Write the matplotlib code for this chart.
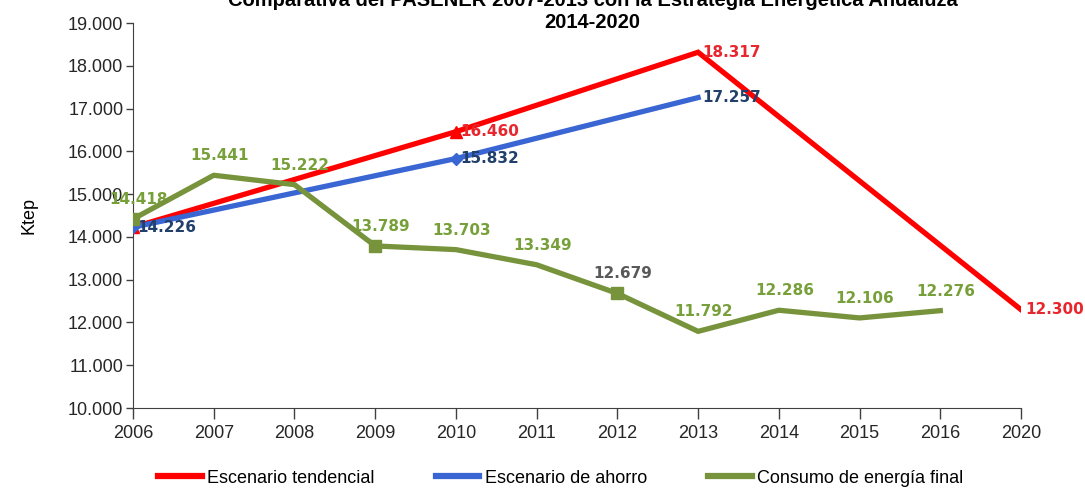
import numpy as np
import matplotlib.pyplot as plt
from matplotlib.ticker import FuncFormatter
from matplotlib.lines import Line2D

plt.rcParams['font.family'] = ['Liberation Sans', 'DejaVu Sans']

# datos
anios = ['2006', '2007', '2008', '2009', '2010', '2011', '2012', '2013', '2014', '2015', '2016', '2020']
tend_idx = [0, 4, 7, 11]
tend_val = [14226, 16460, 18317, 12300]
ahorro_idx = [0, 4, 7]
ahorro_val = [14226, 15832, 17257]
consumo_val = [14418, 15441, 15222, 13789, 13703, 13349, 12679, 11792, 12286, 12106, 12276]

c_rojo = '#FF0000'
c_azul = '#3A66D4'
c_verde = '#77933C'

fig = plt.figure(figsize=(10.85, 4.9), dpi=100)
ax = fig.add_axes([0.1226, 0.1673, 1021 / 1085 - 0.1226, 0.7857])

x_cons = np.arange(len(consumo_val))
ax.plot(tend_idx, tend_val, color=c_rojo, lw=3.8, marker='^', markersize=8,
        markevery=[0, 1], solid_joinstyle='miter', zorder=3)
ax.plot(ahorro_idx, ahorro_val, color=c_azul, lw=3.8, marker='D', markersize=6,
        markevery=[0, 1], zorder=3)
ax.plot(x_cons, consumo_val, color=c_verde, lw=3.8, marker='s', markersize=8,
        markevery=[0, 3, 6], zorder=4)

# etiquetas de datos
def fmt(v):
    return f'{v:,}'.replace(',', '.')

lab_font = dict(fontsize=11, fontweight='bold', family=['DejaVu Sans'])
for i, v in zip(tend_idx[1:], tend_val[1:]):
    ax.annotate(fmt(v), (i, v), xytext=(3, 0), textcoords='offset points',
                ha='left', va='center', color='#E8262E', **lab_font)
for i, v in zip(ahorro_idx, ahorro_val):
    ax.annotate(fmt(v), (i, v), xytext=(3, 0), textcoords='offset points',
                ha='left', va='center', color='#213F6B', **lab_font)
for i, v in zip(x_cons, consumo_val):
    col = '#595959' if i == 6 else '#77A03A'
    ax.annotate(fmt(v), (i, v), xytext=(4, 14), textcoords='offset points',
                ha='center', va='center', color=col, **lab_font)

ax.set_xlim(0, 11)
ax.set_ylim(10000, 19000)
ax.set_xticks(range(len(anios)))
ax.set_xticklabels(anios)
ax.set_yticks(np.arange(10000, 19001, 1000))
ax.yaxis.set_major_formatter(FuncFormatter(lambda v, p: fmt(int(v))))
ax.tick_params(axis='both', labelsize=13, colors='#404040', labelcolor='#262626')
ax.tick_params(axis='x', length=8, width=1, pad=4)
ax.tick_params(axis='y', length=5, width=1, pad=2)
for s in ['top', 'right']:
    ax.spines[s].set_visible(False)
for s in ['left', 'bottom']:
    ax.spines[s].set_color('#404040')
ax.set_ylabel('Ktep', fontsize=13, labelpad=22)

fig.text(0.546, 1.0, 'Comparativa del PASENER 2007-2013 con la Estrategia Energética Andaluza',
         ha='center', va='center', fontsize=14.5, fontweight='bold')
fig.text(0.546, 1 - 22 / 490, '2014-2020', ha='center', va='center',
         fontsize=14.5, fontweight='bold')

handles = [Line2D([], [], color=c_rojo, lw=4.5),
           Line2D([], [], color=c_azul, lw=4.5),
           Line2D([], [], color=c_verde, lw=4.5)]
fig.legend(handles, ['Escenario tendencial', 'Escenario de ahorro', 'Consumo de energía final'],
           loc='center', bbox_to_anchor=(0.517, 1 - 478 / 490), ncol=3, frameon=False,
           fontsize=13, handlelength=2.4, handletextpad=0.3, columnspacing=3.4)

fig.savefig('out.png', dpi=100)
